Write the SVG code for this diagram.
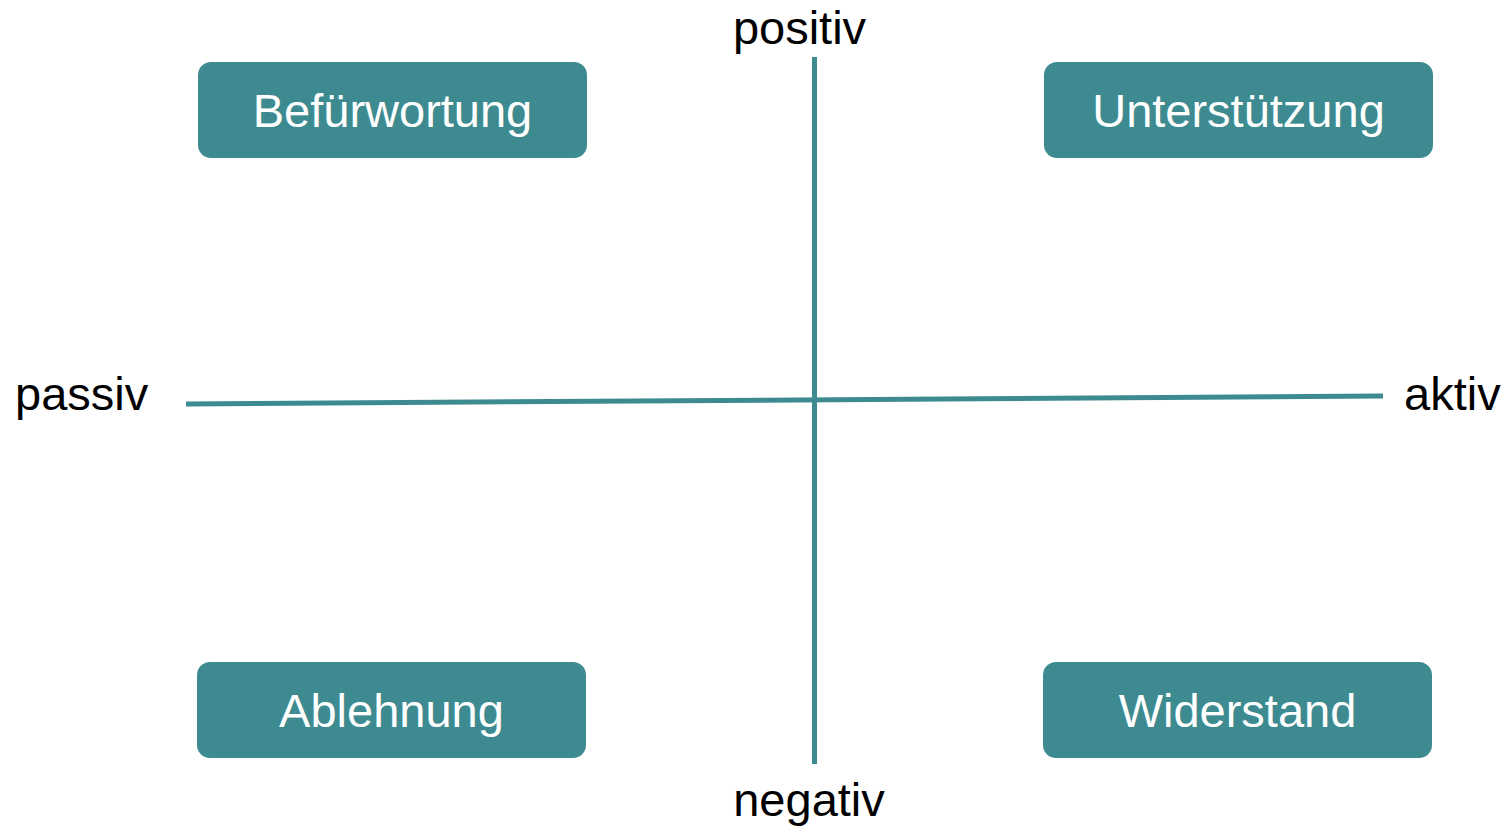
<svg xmlns="http://www.w3.org/2000/svg" width="1505" height="829" viewBox="0 0 1505 829">
<style>
.box{fill:#3D8B91;}
.bt{font-family:"Liberation Sans",Arial,sans-serif;font-size:47px;fill:#ffffff;text-anchor:middle;}
.lbl{font-family:"Liberation Sans",Arial,sans-serif;font-size:47px;fill:#000000;}
.axis{stroke:#3D8B91;stroke-width:5;fill:none;}
</style>
<rect width="1505" height="829" fill="#ffffff"/>
<g id="connectors">
<line class="axis" x1="814.5" y1="57" x2="814.5" y2="764"/>
<line class="axis" x1="186" y1="404" x2="1383" y2="396"/>
</g>
<g id="befuerwortung"><rect class="box" x="198" y="62" width="389" height="96" rx="13"/><text class="bt" x="392.5" y="127">Befürwortung</text></g>
<g id="unterstuetzung"><rect class="box" x="1044" y="62" width="389" height="96" rx="13"/><text class="bt" x="1238.5" y="127">Unterstützung</text></g>
<g id="ablehnung"><rect class="box" x="197" y="662" width="389" height="96" rx="13"/><text class="bt" x="391.5" y="727">Ablehnung</text></g>
<g id="widerstand"><rect class="box" x="1043" y="662" width="389" height="96" rx="13"/><text class="bt" x="1237.5" y="727">Widerstand</text></g>
<g id="labels">
<text class="lbl" x="799.5" y="44" text-anchor="middle">positiv</text>
<text class="lbl" x="809" y="816" text-anchor="middle">negativ</text>
<text class="lbl" x="15" y="410">passiv</text>
<text class="lbl" x="1404" y="410">aktiv</text>
</g>
</svg>
